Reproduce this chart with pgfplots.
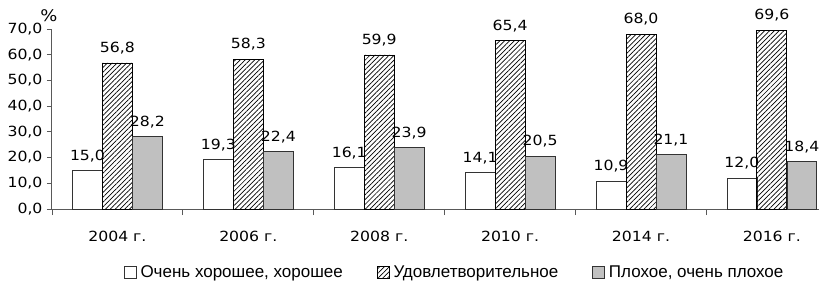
\documentclass[border=0pt]{standalone}
\usepackage{fontspec}
\setmainfont[FakeStretch=1.12]{DejaVu Sans}
\newfontfamily\legfont{Liberation Sans}
\usepackage{pgfplots}
\pgfplotsset{compat=1.18}
\usetikzlibrary{patterns.meta}
\definecolor{barGray}{RGB}{192,192,192}
\begin{document}
\begin{tikzpicture}
\begin{axis}[
  at={(0pt,0pt)}, anchor=south west,
  scale only axis, width=767pt, height=180pt,
  ymin=0, ymax=70, xmin=-0.5, xmax=5.36,
  axis lines*=left,
  axis line style={black!65, line width=1pt},
  ybar=0pt, bar width=0.229,
  xtick={0,...,5},
  xticklabels={2004 г.,2006 г.,2008 г.,2010 г.,2014 г.,2016 г.},
  major x tick style={draw=none},
  minor xtick={-0.5,0.5,1.5,2.5,3.5,4.5},
  minor x tick style={black!65, line width=0.8pt},
  minor tick length=6pt,
  major tick length=5pt,
  tick align=outside,
  ytick={0,10,...,70},
  y tick style={black!65, line width=0.8pt},
  tick label style={font=\fontsize{14}{14}\selectfont},
  x tick label style={yshift=-14pt},
  y tick label style={xshift=-1pt, /pgf/number format/fixed, /pgf/number format/fixed zerofill, /pgf/number format/precision=1, /pgf/number format/use comma, /pgf/number format/assume math mode=true},
  nodes near coords,
  every node near coord/.append style={font=\fontsize{14}{14}\selectfont, black, yshift=5pt, /pgf/number format/fixed, /pgf/number format/fixed zerofill, /pgf/number format/precision=1, /pgf/number format/use comma, /pgf/number format/assume math mode=true},
  legend columns=3,
  legend style={at={(0.525,-0.35)}, anchor=center, draw=none, inner sep=0pt, font=\legfont\fontsize{17}{17}\selectfont, /tikz/every even column/.append style={column sep=32pt}, /tikz/every odd column/.append style={column sep=2pt}},
  legend image code/.code={\draw[#1, line width=0.6pt] (0pt,-6pt) rectangle (12pt,6pt);},
  clip=false,
]
\addplot+[bar shift=-0.229, draw=black!80, fill=white, line width=0.7pt] coordinates {(0,15.0) (1,19.3) (2,16.1) (3,14.1) (4,10.9) (5,12.0)};
\addplot+[bar shift=0, draw=black, pattern={Lines[angle=45,distance=3.4pt,line width=0.7pt]}, pattern color=black, line width=0.8pt] coordinates {(0,56.8) (1,58.3) (2,59.9) (3,65.4) (4,68.0) (5,69.6)};
\addplot+[bar shift=0.229, draw=black!80, fill=barGray, line width=0.7pt] coordinates {(0,28.2) (1,22.4) (2,23.9) (3,20.5) (4,21.1) (5,18.4)};
\legend{{Очень хорошее, хорошее},Удовлетворительное,{Плохое, очень плохое}}
\node[font=\fontsize{16}{16}\selectfont] at (rel axis cs:0,1) [xshift=-3pt, yshift=13pt] {\%};
\end{axis}
\pgfresetboundingbox
\path (-52pt,-72pt) rectangle (767pt,209pt);
\end{tikzpicture}
\end{document}
